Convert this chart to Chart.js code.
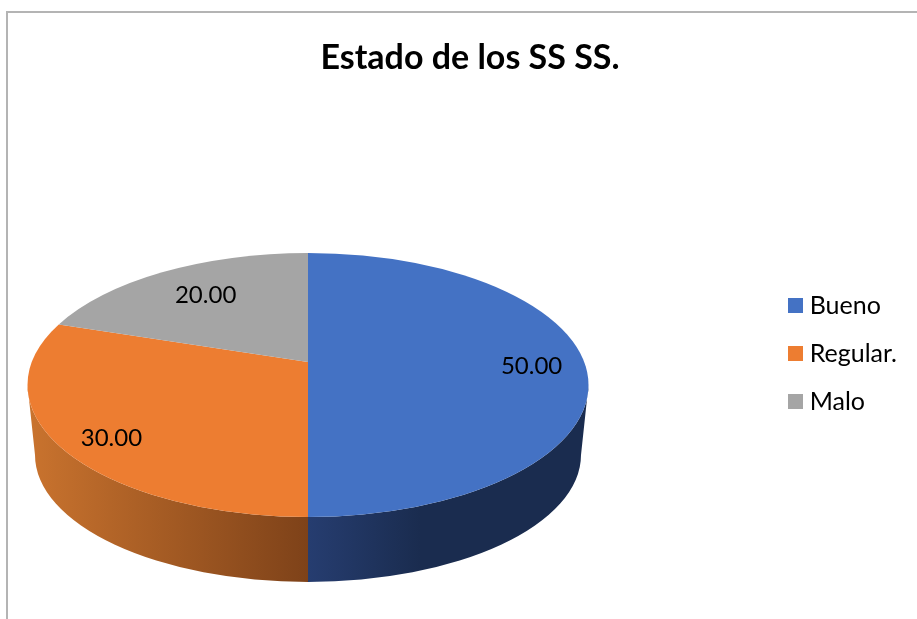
<!DOCTYPE html>
<html>
<head>
  <meta charset="utf-8">
  <title>Estado de los SS SS.</title>
  <style>
    html, body { margin: 0; padding: 0; background: #fff; overflow: hidden; }
    #frame { position: absolute; left: 6px; top: 11px; right: 0; bottom: 0; border-left: 2px solid #b4b4b4; border-top: 2px solid #b4b4b4; }
    canvas { position: absolute; left: 0; top: 0; }
  </style>
  <script src="https://cdn.jsdelivr.net/npm/chart.js"></script>
</head>
<body>
  <div id="frame"></div>
  <canvas id="chart" width="917" height="619"></canvas>
  <script>
    const titleText = "Estado de los SS SS.";
    const categories = ["Bueno", "Regular.", "Malo"];
    const values = [50, 30, 20];
    const colors = ["#4472C4", "#ED7D31", "#A5A5A5"];

    // where the tilted disc lands on the canvas
    const apex = { x: 308, y: 362 };
    const topFace = { x: 308, y: 385, rx: 280.5, ry: 132 };
    const bottomFace = { x: 308, y: 455, rx: 273, ry: 127 };
    const tilt = { a: 276, b: 128, p: -0.174 };

    // front wall shading per slice: [x, colour]
    const wallStops = [
      [[308, "#263D70"], [420, "#1A2C4F"], [590, "#1A2C4F"]],
      [[30, "#C9732E"], [308, "#7E4219"]],
      []
    ];
    const labelFraction = [0.81, 0.8, 0.7];
    const labelNudge = [[0, 4], [-2, 11], [1, -1]];

    function project(angle, f) {
      const c = f * Math.cos(angle), s = f * Math.sin(angle);
      const d = 1 + tilt.p * s;
      return { x: apex.x + tilt.a * c / d, y: apex.y + tilt.b * s / d };
    }
    function faceAngle(angle) {
      const pt = project(angle, 1);
      return Math.atan2((pt.y - topFace.y) / topFace.ry, (pt.x - topFace.x) / topFace.rx);
    }

    function swatch(color) {
      const c = document.createElement("canvas");
      c.width = 15; c.height = 15;
      const g = c.getContext("2d");
      g.fillStyle = color;
      g.fillRect(0, 0, 15, 15);
      return c;
    }

    const tiltedPie = {
      id: "tiltedPie",
      beforeDatasetsDraw(chart) {
        const ctx = chart.ctx;
        const arcs = chart.getDatasetMeta(0).data;

        // front wall, only the part of each slice facing the viewer
        arcs.forEach((arc, i) => {
          let t0 = faceAngle(arc.startAngle), t1 = faceAngle(arc.endAngle);
          if (t1 < t0) t1 += Math.PI * 2;
          t0 = Math.max(t0, 0);
          t1 = Math.min(t1, Math.PI);
          if (t1 <= t0 || !wallStops[i].length) return;
          const grad = ctx.createLinearGradient(20, 0, 600, 0);
          wallStops[i].forEach(s => grad.addColorStop((s[0] - 20) / 580, s[1]));
          ctx.beginPath();
          ctx.ellipse(topFace.x, topFace.y, topFace.rx, topFace.ry, 0, t0, t1);
          ctx.ellipse(bottomFace.x, bottomFace.y, bottomFace.rx, bottomFace.ry, 0, t1, t0, true);
          ctx.closePath();
          ctx.fillStyle = grad;
          ctx.fill();
        });

        // top face
        arcs.forEach(arc => {
          ctx.beginPath();
          ctx.moveTo(apex.x, apex.y);
          ctx.ellipse(topFace.x, topFace.y, topFace.rx, topFace.ry, 0, faceAngle(arc.startAngle), faceAngle(arc.endAngle));
          ctx.closePath();
          ctx.fillStyle = arc.options.backgroundColor;
          ctx.fill();
        });

        // value labels
        ctx.font = "24px Lato";
        ctx.fillStyle = "#000";
        ctx.textAlign = "center";
        ctx.textBaseline = "middle";
        arcs.forEach((arc, i) => {
          const pt = project((arc.startAngle + arc.endAngle) / 2, labelFraction[i]);
          ctx.fillText(values[i].toFixed(2), pt.x + labelNudge[i][0], pt.y + labelNudge[i][1]);
        });
        return false;
      }
    };

    new Chart(document.getElementById("chart"), {
      type: "pie",
      data: {
        labels: categories,
        datasets: [{ data: values, backgroundColor: colors, borderWidth: 0 }]
      },
      options: {
        responsive: false,
        animation: false,
        layout: { padding: { left: 33, right: 10, top: 0, bottom: 0 } },
        plugins: {
          tooltip: { enabled: false },
          title: {
            display: true,
            text: titleText,
            color: "#000",
            font: { family: "Lato", size: 34, weight: "bold" },
            padding: { top: 38, bottom: 10 }
          },
          legend: {
            position: "right",
            fullSize: false,
            labels: {
              color: "#111",
              font: { family: "Lato", size: 25 },
              usePointStyle: true,
              pointStyleWidth: 3,
              boxHeight: 15,
              padding: 23,
              generateLabels: () => categories.map((c, i) => ({
                text: c,
                fillStyle: colors[i],
                strokeStyle: colors[i],
                lineWidth: 0,
                pointStyle: swatch(colors[i]),
                index: i
              }))
            }
          }
        }
      },
      plugins: [tiltedPie]
    });
  </script>
</body>
</html>
